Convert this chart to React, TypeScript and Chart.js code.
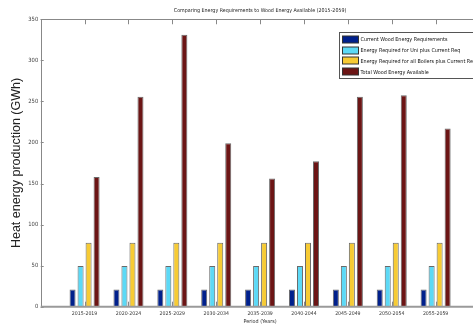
import React, { useEffect, useRef } from 'react';
import { Chart, registerables } from 'chart.js';

Chart.register(...registerables);

const categories = [
  '2015-2019', '2020-2024', '2025-2029', '2030-2034', '2035-2039',
  '2040-2044', '2045-2049', '2050-2054', '2055-2059',
];
const currentWood = [21, 21, 21, 21, 21, 21, 21, 21, 21];
const uniPlusCurrent = [49.5, 49.5, 49.5, 49.5, 49.5, 49.5, 49.5, 49.5, 49.5];
const boilersPlusCurrent = [78, 78, 78, 78, 78, 78, 78, 78, 78];
const totalWood = [158, 255.5, 331, 199, 156, 177, 255.5, 257.5, 217];
const seriesLabels = [
  'Current Wood Energy Requirements',
  'Energy Required for Uni plus Current Req',
  'Energy Required for all Boilers plus Current Req',
  'Total Wood Energy Available',
];
const seriesColors = ['#00208c', '#5cd9f6', '#f7cb34', '#6c1515'];
const yTickValues = [0, 50, 100, 150, 200, 250, 300, 350];

const NARROW = "'Liberation Sans Narrow', 'DejaVu Sans Condensed', sans-serif";

const matlabAxes = {
  id: 'matlabAxes',
  afterDatasetsDraw(chart: any) {
    const { ctx, chartArea } = chart;
    const { left, right, top, bottom } = chartArea;
    const xs = chart.scales.x;
    const ys = chart.scales.y;
    ctx.save();
    ctx.strokeStyle = '#888';
    ctx.lineWidth = 1;
    ctx.beginPath();
    ctx.moveTo(left, Math.round(top) + 0.5);
    ctx.lineTo(right, Math.round(top) + 0.5);
    ctx.moveTo(Math.round(left) + 0.5, top);
    ctx.lineTo(Math.round(left) + 0.5, bottom);
    ctx.stroke();
    ctx.beginPath();
    categories.forEach((_, i) => {
      const px = Math.round(xs.getPixelForValue(i + 1)) + 0.5;
      ctx.moveTo(px, top);
      ctx.lineTo(px, top + 5);
      ctx.moveTo(px, bottom);
      ctx.lineTo(px, bottom - 5);
    });
    yTickValues.forEach((v) => {
      const py = Math.round(ys.getPixelForValue(v)) + 0.5;
      ctx.moveTo(left, py);
      ctx.lineTo(left + 3, py);
    });
    ctx.stroke();
    ctx.strokeStyle = '#9a9a9a';
    ctx.lineWidth = 2;
    ctx.beginPath();
    ctx.moveTo(left, bottom);
    ctx.lineTo(right, bottom);
    ctx.stroke();

    // legend box
    const bx = Math.round(right - 141) + 0.5;
    const by = Math.round(top + 13) + 0.5;
    const bw = 150;
    const bh = 46;
    ctx.fillStyle = '#fff';
    ctx.fillRect(bx, by, bw, bh);
    ctx.strokeStyle = '#555';
    ctx.lineWidth = 1;
    ctx.strokeRect(bx, by, bw, bh);
    ctx.font = `5.4px ${NARROW}`;
    ctx.textBaseline = 'middle';
    ctx.textAlign = 'left';
    chart.data.datasets.forEach((ds: any, i: number) => {
      const sy = by + 3.5 + i * 10.7;
      ctx.fillStyle = ds.backgroundColor;
      ctx.fillRect(bx + 3, Math.round(sy), 16, 7);
      ctx.strokeStyle = '#333';
      ctx.strokeRect(bx + 3, Math.round(sy), 16, 7);
      ctx.fillStyle = '#111';
      ctx.fillText(ds.label, bx + 21, sy + 4);
    });
    ctx.restore();
  },
};

export default function App() {
  const canvasRef = useRef<HTMLCanvasElement | null>(null);

  useEffect(() => {
    const canvas = canvasRef.current;
    if (!canvas) return;
    const series = [currentWood, uniPlusCurrent, boilersPlusCurrent, totalWood];
    const chart = new Chart(canvas, {
      type: 'bar',
      data: {
        datasets: series.map((arr, k) => ({
          label: seriesLabels[k],
          data: arr.map((v, i) => ({ x: i + 1, y: v })),
          backgroundColor: seriesColors[k],
          borderColor: 'rgba(80,80,80,0.85)',
          borderWidth: 1,
          categoryPercentage: 0.73,
          barPercentage: 0.75,
        })),
      },
      options: {
        responsive: false,
        animation: false,
        devicePixelRatio: 1,
        layout: { padding: { left: 0, right: 10.5, top: 0, bottom: 0 } },
        plugins: {
          legend: { display: false },
          tooltip: { enabled: false },
          title: {
            display: true,
            fullSize: false,
            text: 'Comparing Energy Requirements to Wood Energy Available (2015-2059)',
            color: '#222',
            font: { family: NARROW, size: 5.3, weight: 'normal', lineHeight: 1.2 },
            padding: { top: 7.5, bottom: 5.4 },
          },
        },
        scales: {
          x: {
            type: 'linear',
            min: 0,
            max: 10,
            offset: false,
            grid: { display: false, drawTicks: false },
            border: { display: false },
            afterBuildTicks: (s: any) => {
              s.ticks = categories.map((_, i) => ({ value: i + 1 }));
            },
            afterFit: (s: any) => {
              s.height = 23.3;
            },
            ticks: {
              autoSkip: false,
              maxRotation: 0,
              padding: 3.5,
              color: '#333',
              font: { family: NARROW, size: 5.2 },
              callback: (v: any) => categories[Number(v) - 1] ?? '',
            },
            title: {
              display: true,
              text: 'Period (Years)',
              color: '#333',
              font: { family: NARROW, size: 5.4 },
              padding: { top: 0, bottom: 5 },
            },
          },
          y: {
            min: 0,
            max: 350,
            grid: { display: false, drawTicks: false },
            border: { display: false },
            afterFit: (s: any) => {
              s.width = 40.7;
            },
            ticks: {
              stepSize: 50,
              padding: 2.5,
              color: '#444',
              font: { family: NARROW, size: 5.8 },
              callback: (v: any) => String(v),
            },
            title: {
              display: true,
              text: 'Heat energy production (GWh)',
              color: '#222',
              font: { family: "'Liberation Sans', Arial, sans-serif", size: 12.5 },
              padding: { top: 9, bottom: 0 },
            },
          },
        },
      },
      plugins: [matlabAxes],
    } as any);
    return () => chart.destroy();
  }, []);

  return (
    <div
      style={{
        position: 'fixed',
        left: 0,
        top: 0,
        width: 473,
        height: 325,
        overflow: 'hidden',
        background: '#fff',
      }}
    >
      <canvas ref={canvasRef} width={490} height={330} style={{ width: 490, height: 330, display: 'block' }} />
    </div>
  );
}
